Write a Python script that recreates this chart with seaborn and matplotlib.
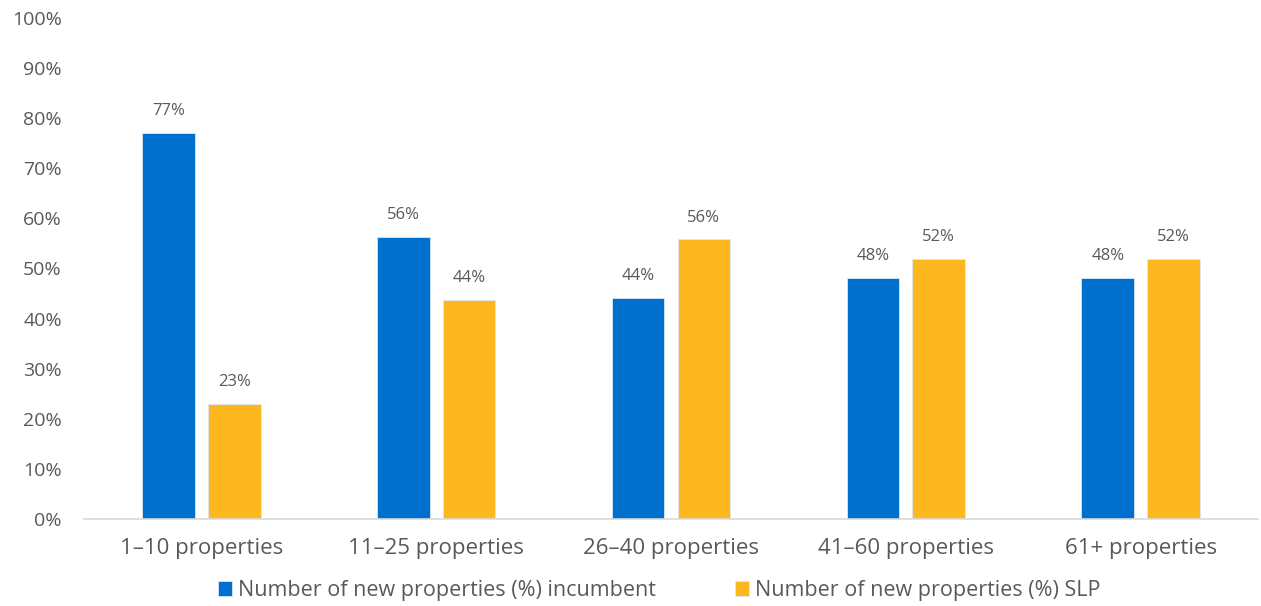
import numpy as np
import pandas as pd
import matplotlib
matplotlib.use("Agg")
import matplotlib.pyplot as plt
import seaborn as sns

# Data
CATEGORIES = ["1–10 properties", "11–25 properties", "26–40 properties",
              "41–60 properties", "61+ properties"]
INCUMBENT = [77.0, 56.3, 44.2, 48.1, 48.1]
SLP = [23.0, 43.7, 55.8, 51.9, 51.9]
SERIES = ["Number of new properties (%) incumbent",
          "Number of new properties (%) SLP"]
COLORS = ["#0070CF", "#FDB71F"]
TEXT_COLOR = "#595959"

df = pd.DataFrame({
    "Category": CATEGORIES * 2,
    "Series": [SERIES[0]] * len(CATEGORIES) + [SERIES[1]] * len(CATEGORIES),
    "Value": INCUMBENT + SLP,
})

sns.set_theme(style="white")
plt.rcParams["font.family"] = ["Open Sans", "DejaVu Sans"]

fig = plt.figure(figsize=(12.61, 6.06), dpi=100)
ax = fig.add_axes([0.0666, 0.1436, 0.931, 0.8267])

sns.barplot(data=df, x="Category", y="Value", hue="Series",
            palette=COLORS, saturation=1, width=0.56, gap=0.2, ax=ax,
            edgecolor="#dfe8f5", linewidth=0.6, legend=True)

ax.set_xlim(-0.5, 4.5)
ax.set_ylim(0, 100)
ax.set_yticks(np.arange(0, 101, 10))
ax.set_yticklabels([f"{v}%" for v in range(0, 101, 10)])
ax.set_xlabel("")
ax.set_ylabel("")
ax.tick_params(axis="both", length=0, colors=TEXT_COLOR)
ax.tick_params(axis="y", pad=16, labelsize=14)
ax.tick_params(axis="x", pad=14, labelsize=16)

for side in ["top", "right", "left"]:
    ax.spines[side].set_visible(False)
ax.spines["bottom"].set_color("#d9d9d9")
ax.spines["bottom"].set_linewidth(1.2)

for container in ax.containers:
    ax.bar_label(container, fmt="%.0f%%", padding=10,
                 fontsize=12, color=TEXT_COLOR)

handles, labels = ax.get_legend_handles_labels()
ax.legend(handles, labels, loc="center", bbox_to_anchor=(0.49, -0.143),
          ncol=2, frameon=False, fontsize=15.5, handlelength=0.65,
          handleheight=0.65, handletextpad=0.25, columnspacing=3.7,
          labelcolor=TEXT_COLOR)

fig.savefig("out.png", dpi=100)
